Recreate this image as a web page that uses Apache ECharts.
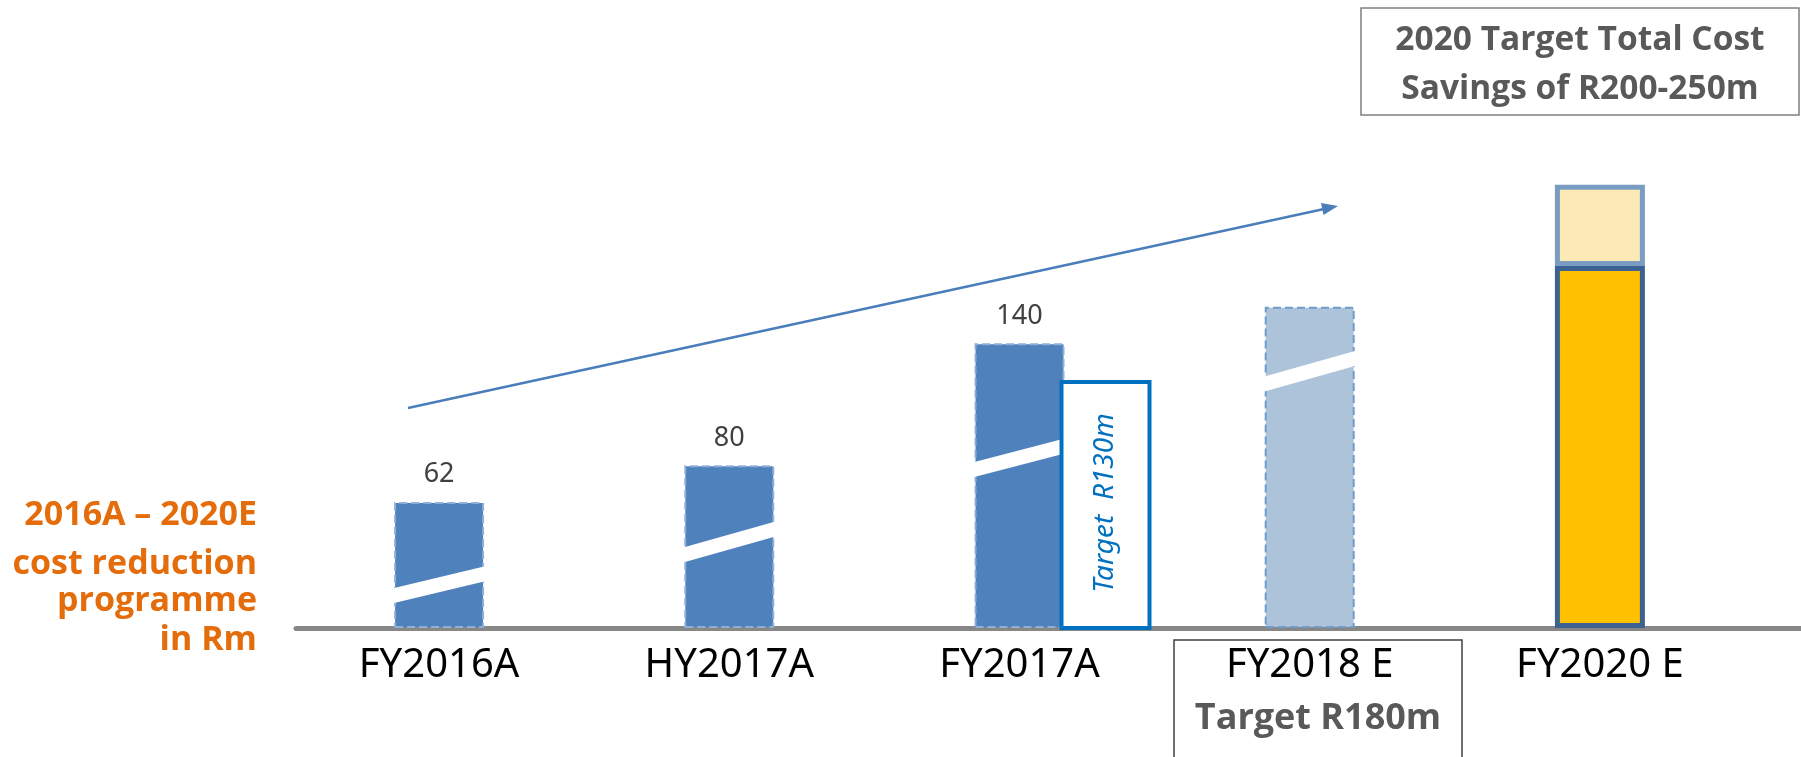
<!DOCTYPE html>
<html>
<head>
<meta charset="utf-8">
<title>Cost reduction programme</title>
<script src="https://cdn.jsdelivr.net/npm/echarts@6/dist/echarts.min.js"></script>
<style>
  html, body { margin: 0; padding: 0; background: #fff; }
  #main { width: 1801px; height: 757px; }
</style>
</head>
<body>
<div id="main"></div>
<script>
// categories and values
const categories = ['FY2016A', 'HY2017A', 'FY2017A', 'FY2018 E', 'FY2020 E'];
const achieved = [62, 80, 140, 158, 178];
const upside = [null, null, null, null, 40];
const valueLabels = ['62', '80', '140', '', ''];
// "Target R130m" box next to FY2017A: [category index, height]
const targetBox = [[2, 121]];
// white break bands, value at left and right edge of each bar
const breakLeft = [16, 36, 78, 120];
const breakRight = [27, 49, 90, 133];

const BAR_W = 90;
const blueDashed = { color: '#4f81bd', borderColor: '#8fb0d6', borderWidth: 2, borderType: 'dashed' };
const lightDashed = { color: '#adc3d9', borderColor: '#6e9dcb', borderWidth: 2, borderType: 'dashed' };
const orangeSolid = { color: '#ffc000', borderColor: '#3d6291', borderWidth: 5 };
const barStyles = [blueDashed, blueDashed, blueDashed, lightDashed, orangeSolid];

const chart = echarts.init(document.getElementById('main'));

const option = {
  animation: false,
  backgroundColor: '#fff',
  grid: [
    { left: 294, right: 56, top: 140, bottom: 129 },
    { left: 296, right: 0, top: 140, bottom: 129 }
  ],
  xAxis: [{
    type: 'category',
    gridIndex: 0,
    data: categories,
    axisLine: { show: false },
    axisTick: { show: false },
    axisLabel: {
      fontFamily: 'Noto Sans',
      fontSize: 40,
      color: '#000',
      margin: 18
    }
  }, {
    type: 'value',
    gridIndex: 1,
    min: 0,
    max: 1,
    axisLine: { show: true, lineStyle: { color: '#878787', width: 5 } },
    axisTick: { show: false },
    axisLabel: { show: false },
    splitLine: { show: false }
  }],
  yAxis: [{
    type: 'value',
    gridIndex: 0,
    min: 0,
    max: 240,
    show: false
  }, {
    type: 'value',
    gridIndex: 1,
    min: 0,
    max: 1,
    show: false
  }],
  series: [{
    name: 'achieved',
    type: 'bar',
    stack: 'total',
    barWidth: BAR_W,
    z: 3,
    data: achieved.map((v, i) => ({
      value: v,
      itemStyle: barStyles[i],
      label: {
        show: valueLabels[i] !== '',
        position: 'top',
        distance: 14,
        formatter: valueLabels[i],
        fontFamily: 'Noto Sans',
        fontSize: 27,
        color: '#404040'
      }
    }))
  }, {
    name: 'upside',
    type: 'bar',
    stack: 'total',
    barWidth: BAR_W,
    z: 4,
    data: upside.map(v => v == null ? null : {
      value: v,
      itemStyle: { color: '#fde9b5', borderColor: '#7a9cc3', borderWidth: 5 }
    })
  }, {
    name: 'breaks',
    type: 'custom',
    z: 5,
    data: breakLeft.map((v, i) => [i, v, breakRight[i]]),
    renderItem: function (params, api) {
      const pL = api.coord([api.value(0), api.value(1)]);
      const pR = api.coord([api.value(0), api.value(2)]);
      const x0 = pL[0] - BAR_W / 2 - 2;
      const x1 = pL[0] + BAR_W / 2 + 2;
      return {
        type: 'polygon',
        shape: {
          points: [[x0, pL[1] - 7], [x1, pR[1] - 7], [x1, pR[1] + 8], [x0, pL[1] + 8]]
        },
        style: { fill: '#ffffff' }
      };
    }
  }, {
    name: 'target',
    type: 'custom',
    z: 6,
    data: targetBox,
    renderItem: function (params, api) {
      const top = api.coord([api.value(0), api.value(1)]);
      const base = api.coord([api.value(0), 0]);
      const x = top[0] + BAR_W / 2 - 3;
      const w = 88;
      const h = base[1] - top[1];
      return {
        type: 'group',
        children: [{
          type: 'rect',
          shape: { x: x, y: top[1], width: w, height: h },
          style: { fill: '#ffffff', stroke: '#0070c0', lineWidth: 4 }
        }, {
          type: 'text',
          x: x + w / 2,
          y: top[1] + h / 2 - 2,
          rotation: Math.PI / 2,
          style: {
            text: 'Target  R130m',
            fill: '#0070c0',
            font: 'italic 28px "Noto Sans"',
            align: 'center',
            verticalAlign: 'middle'
          }
        }]
      };
    }
  }],
  graphic: [
    // left side caption
    { type: 'text', x: 257, y: 515, style: { text: '2016A \u2013 2020E', fill: '#e46c0a', font: 'bold 34px "Open Sans"', align: 'right', verticalAlign: 'middle' } },
    { type: 'text', x: 257, y: 564, style: { text: 'cost reduction', fill: '#e46c0a', font: 'bold 34px "Open Sans"', align: 'right', verticalAlign: 'middle' } },
    { type: 'text', x: 257, y: 601, style: { text: 'programme', fill: '#e46c0a', font: 'bold 34px "Open Sans"', align: 'right', verticalAlign: 'middle' } },
    { type: 'text', x: 257, y: 640, style: { text: 'in Rm', fill: '#e46c0a', font: 'bold 34px "Open Sans"', align: 'right', verticalAlign: 'middle' } },
    // growth arrow
    { type: 'line', shape: { x1: 408, y1: 408, x2: 1324, y2: 209 }, style: { stroke: '#4a7ebb', lineWidth: 2.5 } },
    { type: 'polygon', shape: { points: [[1338, 206], [1321, 203], [1323.5, 215]] }, style: { fill: '#4a7ebb' } },
    // target box top right
    { type: 'rect', shape: { x: 1361, y: 8, width: 438, height: 107 }, style: { fill: 'none', stroke: '#7f7f7f', lineWidth: 1.5 } },
    { type: 'text', x: 1580, y: 40, style: { text: '2020 Target Total Cost', fill: '#595959', font: 'bold 33.5px "Open Sans"', align: 'center', verticalAlign: 'middle' } },
    { type: 'text', x: 1580, y: 89, style: { text: 'Savings of R200-250m', fill: '#595959', font: 'bold 33.5px "Open Sans"', align: 'center', verticalAlign: 'middle' } },
    // FY2018 box
    { type: 'rect', shape: { x: 1174, y: 640, width: 288, height: 130 }, style: { fill: 'none', stroke: '#404040', lineWidth: 1.5 } },
    { type: 'text', x: 1318, y: 719, style: { text: 'Target R180m', fill: '#595959', font: 'bold 36px "Open Sans"', align: 'center', verticalAlign: 'middle' } }
  ]
};

chart.setOption(option);
window.onresize = function () {
  chart.resize();
};
</script>
</body>
</html>
